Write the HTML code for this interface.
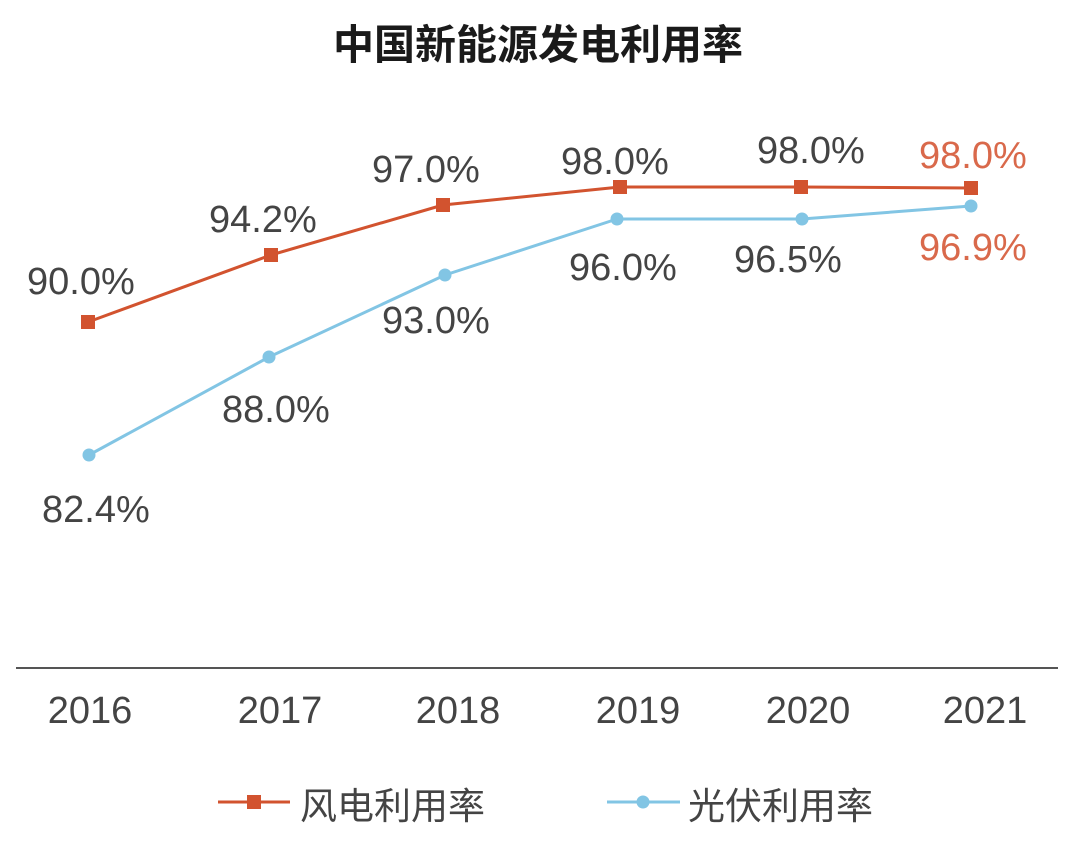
<!DOCTYPE html>
<html>
<head>
<meta charset="utf-8">
<style>
  html, body { margin: 0; padding: 0; background: #ffffff; }
  body { width: 1080px; height: 849px; overflow: hidden; }
  svg { display: block; }
  .lbl { font-family: "Liberation Sans", "Noto Sans CJK SC", sans-serif; font-size: 38px; fill: #444444; }
  .red { fill: #d9694b; }
  .yr { font-family: "Liberation Sans", "Noto Sans CJK SC", sans-serif; font-size: 38px; fill: #444444; text-anchor: middle; }
  .leg { font-family: "Liberation Sans", "Noto Sans CJK SC", sans-serif; font-size: 37px; fill: #444444; }
  .title { font-family: "Liberation Sans", "Noto Sans CJK SC", sans-serif; font-size: 41px; font-weight: bold; fill: #1a1a1a; text-anchor: middle; }
</style>
</head>
<body>
<svg width="1080" height="849" viewBox="0 0 1080 849" xmlns="http://www.w3.org/2000/svg">
  <rect width="1080" height="849" fill="#ffffff"/>
  <!-- Title -->
  <text class="title" x="538" y="59">中国新能源发电利用率</text>

  <!-- Axis line -->
  <line x1="16" y1="668" x2="1058" y2="668" stroke="#555555" stroke-width="2"/>

  <!-- Solar series -->
  <polyline points="89,455 269,357 445,275 617,219 802,219 971,206" fill="none" stroke="#82c5e4" stroke-width="3" stroke-linejoin="round"/>
  <g fill="#82c5e4">
    <circle cx="89" cy="455" r="6.5"/>
    <circle cx="269" cy="357" r="6.5"/>
    <circle cx="445" cy="275" r="6.5"/>
    <circle cx="617" cy="219" r="6.5"/>
    <circle cx="802" cy="219" r="6.5"/>
    <circle cx="971" cy="206" r="6.5"/>
  </g>

  <!-- Wind series -->
  <polyline points="88,322 271,255 443,205 620,187 801,187 971,188" fill="none" stroke="#d2532f" stroke-width="3" stroke-linejoin="round"/>
  <g fill="#d2532f">
    <rect x="81" y="315" width="14" height="14"/>
    <rect x="264" y="248" width="14" height="14"/>
    <rect x="436" y="198" width="14" height="14"/>
    <rect x="613" y="180" width="14" height="14"/>
    <rect x="794" y="180" width="14" height="14"/>
    <rect x="964" y="181" width="14" height="14"/>
  </g>

  <!-- Wind labels -->
  <text class="lbl" x="27" y="294">90.0%</text>
  <text class="lbl" x="209" y="232">94.2%</text>
  <text class="lbl" x="372" y="182">97.0%</text>
  <text class="lbl" x="561" y="174">98.0%</text>
  <text class="lbl" x="757" y="163">98.0%</text>
  <text class="lbl red" x="919" y="168">98.0%</text>

  <!-- Solar labels -->
  <text class="lbl" x="42" y="522">82.4%</text>
  <text class="lbl" x="222" y="422">88.0%</text>
  <text class="lbl" x="382" y="333">93.0%</text>
  <text class="lbl" x="569" y="280">96.0%</text>
  <text class="lbl" x="734" y="272">96.5%</text>
  <text class="lbl red" x="919" y="260">96.9%</text>

  <!-- Year labels -->
  <text class="yr" x="90" y="723">2016</text>
  <text class="yr" x="280" y="723">2017</text>
  <text class="yr" x="458" y="723">2018</text>
  <text class="yr" x="638" y="723">2019</text>
  <text class="yr" x="808" y="723">2020</text>
  <text class="yr" x="985" y="723">2021</text>

  <!-- Legend -->
  <line x1="218" y1="802" x2="290" y2="802" stroke="#d2532f" stroke-width="3"/>
  <rect x="247" y="795" width="14" height="14" fill="#d2532f"/>
  <text class="leg" x="300" y="819">风电利用率</text>

  <line x1="607" y1="802" x2="680" y2="802" stroke="#82c5e4" stroke-width="3"/>
  <circle cx="643" cy="802" r="6.5" fill="#82c5e4"/>
  <text class="leg" x="688" y="819">光伏利用率</text>
</svg>
</body>
</html>
